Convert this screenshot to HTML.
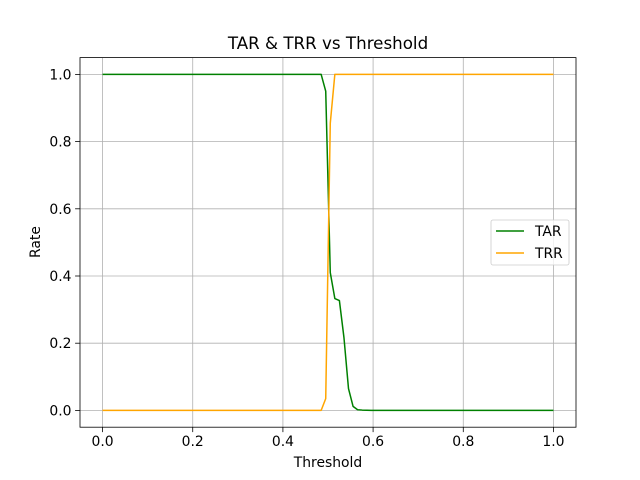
<!DOCTYPE html>
<html><head><meta charset="utf-8"><style>
body{margin:0;background:#fff}
svg{display:block;font-family:"DejaVu Sans","Liberation Sans",sans-serif}
</style></head><body>
<svg id="chart" width="640" height="480"></svg>
<script>
const N = 100;
const tarTransition = [1.0, 0.95, 0.41, 0.333, 0.327, 0.217, 0.065, 0.012, 0.002, 0.001, 0.0005];
const trrTransition = [0.0, 0.035, 0.855, 1.0];
const xTicks = [0, 0.2, 0.4, 0.6, 0.8, 1.0];
const yTicks = [0, 0.2, 0.4, 0.6, 0.8, 1.0];
const thresholds = [];
for (let i = 0; i < N; i++) thresholds.push(i / (N - 1));
const tar = [], trr = [];
for (let i = 0; i < N; i++) {
  const k = i - 48;
  tar.push(k < 0 ? 1 : (k < tarTransition.length ? tarTransition[k] : 0));
  trr.push(k < 0 ? 0 : (k < trrTransition.length ? trrTransition[k] : 1));
}
const L = 80, R = 576, T = 57.6, B = 427.2;
const xs = v => L + (v + 0.05) / 1.1 * (R - L);
const ys = v => B - (v + 0.05) / 1.1 * (B - T);
const svg = document.getElementById('chart');
const NS = 'http://www.w3.org/2000/svg';
function mk(tag, attrs, parent) {
  const e = document.createElementNS(NS, tag);
  for (const k in attrs) e.setAttribute(k, attrs[k]);
  (parent || svg).appendChild(e);
  return e;
}
xTicks.forEach(v => {
  const x = xs(v);
  const g = mk('line', {x1: x, x2: x, y1: T, y2: B, stroke: '#b0b0b0', 'stroke-width': 0.8});
  
  
  mk('line', {x1: x, x2: x, y1: B, y2: B + 4.9, stroke: '#000', 'stroke-width': 0.8});
  const t = mk('text', {x: x, y: B + 19, 'text-anchor': 'middle', 'font-size': 13.9});
  t.textContent = v.toFixed(1);
  
  
});
yTicks.forEach(v => {
  const y = ys(v);
  const g = mk('line', {x1: L, x2: R, y1: y, y2: y, stroke: '#b0b0b0', 'stroke-width': 0.8});
  
  
  mk('line', {x1: L - 4.9, x2: L, y1: y, y2: y, stroke: '#000', 'stroke-width': 0.8});
  const t = mk('text', {x: L - 8.5, y: y + 5, 'text-anchor': 'end', 'font-size': 13.9});
  t.textContent = v.toFixed(1);
  
  
});
function line(vals, color, name) {
  const p = mk('polyline', {points: vals.map((v, i) => xs(thresholds[i]) + ',' + ys(v)).join(' '), fill: 'none', stroke: color, 'stroke-width': 1.5, 'stroke-linejoin': 'round'});
  
  
}
line(tar, 'green', 'tar-line');
line(trr, 'orange', 'trr-line');
const fr = mk('rect', {x: L, y: T, width: R - L, height: B - T, fill: 'none', stroke: '#000', 'stroke-width': 0.8});


const title = mk('text', {x: (L + R) / 2, y: 49, 'text-anchor': 'middle', 'font-size': 16.7});
title.textContent = 'TAR & TRR vs Threshold';


const xl = mk('text', {x: (L + R) / 2, y: 467, 'text-anchor': 'middle', 'font-size': 13.9});
xl.textContent = 'Threshold';


const yl = mk('text', {x: 40, y: 242, 'text-anchor': 'middle', 'font-size': 13.9, transform: 'rotate(-90 40 242)'});
yl.textContent = 'Rate';


const lg = mk('g', {});


mk('rect', {x: 491, y: 220, width: 78, height: 45, rx: 2, fill: '#fff', 'fill-opacity': 0.8, stroke: '#ccc', 'stroke-width': 0.8}, lg);
[['TAR', 'green', 231], ['TRR', 'orange', 253]].forEach(([n, c, y]) => {
  const e = mk('g', {}, lg);
  
  
  mk('line', {x1: 496, x2: 524, y1: y, y2: y, stroke: c, 'stroke-width': 1.5}, e);
  const t = mk('text', {x: 535, y: y + 5, 'font-size': 13.9}, e);
  t.textContent = n;
});
</script>
</body></html>
